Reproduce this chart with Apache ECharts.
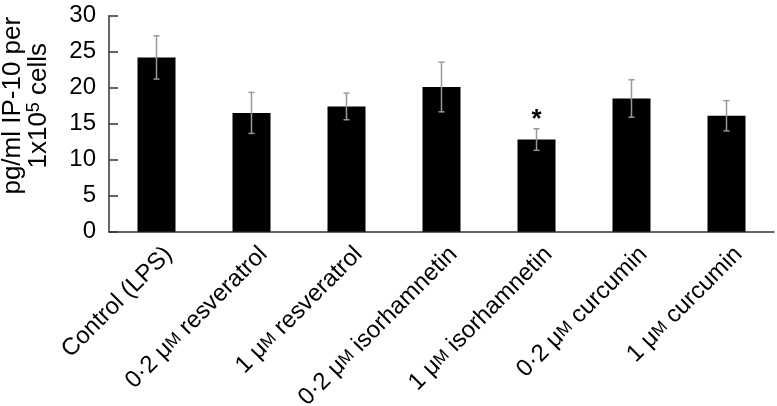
<!DOCTYPE html>
<html>
<head>
<meta charset="utf-8">
<script src="https://cdn.jsdelivr.net/npm/echarts@6/dist/echarts.min.js"></script>
<style>html,body{margin:0;padding:0;background:#fff}#c{width:777px;height:406px}</style>
</head>
<body>
<div id="c"></div>
<script>
var categories = ['Control (LPS)', '0·2 μ{sc|M} resveratrol', '1 μ{sc|M} resveratrol', '0·2 μ{sc|M} isorhamnetin', '1 μ{sc|M} isorhamnetin', '0·2 μ{sc|M} curcumin', '1 μ{sc|M} curcumin'];
var values = [24.2, 16.5, 17.4, 20.1, 12.8, 18.5, 16.1];
var errors = [3.0, 2.85, 1.85, 3.45, 1.5, 2.6, 2.1];
var marks = ['', '', '', '', '*', '', ''];
var yTicks = [0, 5, 10, 15, 20, 25, 30];

var FONT = '"Liberation Sans", Arial, Helvetica, sans-serif';
var chart = echarts.init(document.getElementById('c'), null, {renderer: 'canvas'});

var errData = values.map(function (v, i) { return [i, v, errors[i], marks[i]]; });

chart.setOption({
  animation: false,
  backgroundColor: '#fff',
  grid: {left: 109, right: 3, top: 15.7, bottom: 174.3, containLabel: false, outerBoundsMode: 'none'},
  xAxis: {
    type: 'category',
    data: categories,
    axisLine: {lineStyle: {color: '#333', width: 1.5}},
    axisTick: {inside: true, length: 9, lineStyle: {color: '#333', width: 1.5}},
    axisLabel: {
      rotate: 45, margin: 7, color: '#000', fontSize: 24, fontFamily: FONT,
      interval: 0, verticalAlign: 'top', padding: [5, 0, 0, 0],
      rich: {sc: {fontSize: 17, fontFamily: FONT, color: '#000'}}
    }
  },
  yAxis: {
    type: 'value', min: 0, max: 30, interval: 5,
    splitLine: {show: false},
    axisLine: {show: true, lineStyle: {color: '#333', width: 1.5}},
    axisTick: {show: true, inside: true, length: 9, lineStyle: {color: '#333', width: 1.5}},
    axisLabel: {
      color: '#000', fontSize: 24, fontFamily: FONT, margin: 13,
      formatter: function (v) { return yTicks.indexOf(v) >= 0 ? String(v) : ''; }
    },
    name: 'pg/ml IP-10 per\n1x10{sup|5} cells',
    nameLocation: 'middle',
    nameRotate: 90,
    nameGap: 57,
    nameTextStyle: {
      color: '#000', fontSize: 26, fontFamily: FONT, lineHeight: 26,
      padding: [0, 0, 0, 36],
      rich: {sup: {fontSize: 18, fontFamily: FONT, color: '#000', padding: [0, 0, 10, 0]}}
    }
  },
  series: [
    {
      type: 'bar',
      data: values,
      barWidth: '40%',
      itemStyle: {color: '#000'},
      z: 2
    },
    {
      type: 'custom',
      data: errData,
      z: 3,
      renderItem: function (params, api) {
        var x = api.value(0), v = api.value(1), e = api.value(2);
        var top = api.coord([x, v + e]);
        var bot = api.coord([x, v - e]);
        var cw = 3;
        var style = {stroke: '#999', lineWidth: 1.5};
        var children = [
          {type: 'line', shape: {x1: top[0], y1: top[1], x2: bot[0], y2: bot[1]}, style: style},
          {type: 'line', shape: {x1: top[0] - cw, y1: top[1], x2: top[0] + cw, y2: top[1]}, style: style},
          {type: 'line', shape: {x1: bot[0] - cw, y1: bot[1], x2: bot[0] + cw, y2: bot[1]}, style: style}
        ];
        var m = marks[params.dataIndex];
        if (m) {
          children.push({type: 'text', x: top[0], y: top[1] + 4,
            style: {text: m, fill: '#000', font: 'bold 26px ' + FONT, align: 'center', verticalAlign: 'bottom'}});
        }
        return {type: 'group', children: children};
      }
    }
  ]
});
</script>
</body>
</html>
